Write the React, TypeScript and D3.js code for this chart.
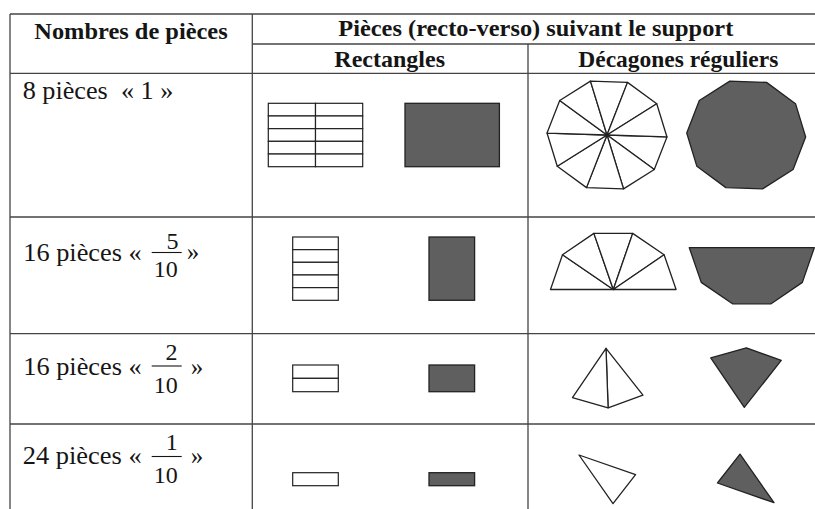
import React from "react";
import * as d3 from "d3";

// ---------- content ----------
const headerMain = "Nombres de pièces";
const headerSupport = "Pièces (recto-verso) suivant le support";
const supportTypes = ["Rectangles", "Décagones réguliers"];

const pieceCounts = [8, 16, 16, 24];
const fractionNumerators = [1, 5, 2, 1];
const fractionDenominators = [1, 10, 10, 10];
// tenths of the unit rectangle (grid rows x cols)
const rectGridRows = [5, 5, 2, 1];
const rectGridCols = [2, 1, 1, 1];
// tenths (sectors) of the regular decagon
const decagonSectors = [10, 5, 2, 1];

// ---------- layout ----------
const W = 815;
const H = 509;
const tableLeft = 10;
const tableTop = 14;
const col1X = 252.3;
const col2X = 528;
const headerSplitY = 44;
const headerBottomY = 73.3;
const rowBottoms = [217, 333.7, 424];

const headerLayout = [
  { x: 34.3, base: 39, w: 193.4 },
  { x: 338.3, base: 36, w: 395 },
  { x: 334.3, base: 67, w: 110.7 },
  { x: 578.3, base: 66.7, w: 200 },
];

const labelLayout = [
  { x: 22.7, base: 98.5, w: 150.6 },
  { x: 23.3, base: 261, w: 118.4, barY: 252.5, numX: 172.5, numBase: 248.5, denX: 165.8, denBase: 277, sufX: 186.7, sufBase: 260 },
  { x: 23.3, base: 375, w: 118.4, barY: 366, numX: 171.5, numBase: 360, denX: 165.8, denBase: 392.5, sufX: 190.7, sufBase: 375 },
  { x: 22.7, base: 464, w: 119, barY: 456.5, numX: 171.7, numBase: 450, denX: 165.8, denBase: 482.5, sufX: 190.7, sufBase: 464 },
];
const barX0 = 151.7;
const barX1 = 181.7;

const rectLayout = [
  { x: 268.3, fx: 405, y: 103.3, cw: 47.2, ch: 12.68 },
  { x: 292.7, fx: 429, y: 237, cw: 45.6, ch: 12.66 },
  { x: 292.7, fx: 429, y: 365, cw: 45.6, ch: 13.35 },
  { x: 292.7, fx: 429, y: 472.7, cw: 45.6, ch: 13 },
];

const decaLayout = [
  { o: { cx: 607, cy: 135, rx: 60, ry: 56, start: 2 }, f: { cx: 746.2, cy: 135, rx: 59.5, ry: 56, start: 2 } },
  { o: { cx: 613.3, cy: 289.5, rx: 62.8, ry: 59, start: 180 }, f: { cx: 751.8, cy: 247.7, rx: 62.5, ry: 59, start: 0 } },
  { o: { cx: 606, cy: 348.3, rx: 60, ry: 59.5, start: 52 }, f: { cx: 744.3, cy: 407.3, rx: 60, ry: 59.5, start: 236 } },
  { o: { cx: 579, cy: 455, rx: 60, ry: 59, start: 19.5 }, f: { cx: 774, cy: 502.7, rx: 60, ry: 59, start: 199.5 } },
];

const LINE = "#444";
const INK = "#151515";
const SHAPE_STROKE = "#222";
const FILL = "#5f5f5f";
const SERIF = "Liberation Serif, Times New Roman, Times, serif";

const angleScale = d3.scaleLinear().domain([0, 10]).range([0, 2 * Math.PI]);

type Deca = { cx: number; cy: number; rx: number; ry: number; start: number };

function vertex(d: Deca, k: number): [number, number] {
  const a = (d.start * Math.PI) / 180 + angleScale(k);
  return [d.cx + d.rx * Math.cos(a), d.cy + d.ry * Math.sin(a)];
}

const lineGen = d3.line();

function OutlinePiece({ d, n }: { d: Deca; n: number }) {
  return (
    <g>
      {d3.range(n).map((k) => (
        <path
          key={k}
          d={lineGen([[d.cx, d.cy], vertex(d, k), vertex(d, k + 1)])! + "Z"}
          fill="#fff"
          stroke={SHAPE_STROKE}
          strokeWidth={1.3}
          strokeLinejoin="round"
        />
      ))}
    </g>
  );
}

function FilledPiece({ d, n }: { d: Deca; n: number }) {
  const pts: [number, number][] = d3.range(n + (n < 10 ? 1 : 0)).map((k) => vertex(d, k));
  if (n < 10) pts.push([d.cx, d.cy]);
  return (
    <path d={lineGen(pts)! + "Z"} fill={FILL} stroke={SHAPE_STROKE} strokeWidth={1.3} strokeLinejoin="round" />
  );
}

function RectPieces({ i }: { i: number }) {
  const L = rectLayout[i];
  const rows = rectGridRows[i];
  const cols = rectGridCols[i];
  const xs = d3.scaleLinear().domain([0, cols]).range([L.x, L.x + cols * L.cw]);
  const fxs = d3.scaleLinear().domain([0, cols]).range([L.fx, L.fx + cols * L.cw]);
  const ys = d3.scaleLinear().domain([0, rows]).range([L.y, L.y + rows * L.ch]);
  const cells: { r: number; c: number }[] = [];
  d3.range(rows).forEach((r) => d3.range(cols).forEach((c) => cells.push({ r, c })));
  return (
    <g>
      {cells.map(({ r, c }) => (
        <rect
          key={`${r}-${c}`}
          x={xs(c)}
          y={ys(r)}
          width={xs(c + 1) - xs(c)}
          height={ys(r + 1) - ys(r)}
          fill="#fff"
          stroke={SHAPE_STROKE}
          strokeWidth={1.2}
        />
      ))}
      <rect
        x={fxs(0)}
        y={ys(0)}
        width={fxs(cols) - fxs(0)}
        height={ys(rows) - ys(0)}
        fill={FILL}
        stroke={SHAPE_STROKE}
        strokeWidth={1.3}
      />
    </g>
  );
}

function RowLabel({ i }: { i: number }) {
  const L: any = labelLayout[i];
  const common = { fontFamily: SERIF, fill: INK };
  if (fractionDenominators[i] === 1) {
    return (
      <text {...common} fontSize={25} x={L.x} y={L.base} textLength={L.w} lengthAdjust="spacingAndGlyphs" xmlSpace="preserve">
        {`${pieceCounts[i]} pièces  « ${fractionNumerators[i]} »`}
      </text>
    );
  }
  return (
    <g>
      <text {...common} fontSize={25} x={L.x} y={L.base} textLength={L.w} lengthAdjust="spacingAndGlyphs">
        {`${pieceCounts[i]} pièces «`}
      </text>
      <text {...common} fontSize={24} x={L.numX} y={L.numBase} textAnchor="middle">
        {String(fractionNumerators[i])}
      </text>
      <line x1={barX0} x2={barX1} y1={L.barY} y2={L.barY} stroke={INK} strokeWidth={1.1} />
      <text {...common} fontSize={24} x={L.denX} y={L.denBase} textAnchor="middle">
        {String(fractionDenominators[i])}
      </text>
      <text {...common} fontSize={25} x={L.sufX} y={L.sufBase}>
        »
      </text>
    </g>
  );
}

export default function App() {
  const headerTexts = [headerMain, headerSupport, supportTypes[0], supportTypes[1]];
  return (
    <svg
      width={W}
      height={H}
      viewBox={`0 0 ${W} ${H}`}
      style={{ position: "absolute", left: 0, top: 0, background: "#fff" }}
    >
      <rect x={0} y={0} width={W} height={H} fill="#fff" />
      {/* table grid */}
      <g stroke={LINE} strokeWidth={1.3} fill="none">
        <line x1={tableLeft} x2={W} y1={tableTop} y2={tableTop} />
        <line x1={tableLeft} x2={tableLeft} y1={tableTop} y2={H} />
        <line x1={col1X} x2={col1X} y1={tableTop} y2={H} />
        <line x1={col2X} x2={col2X} y1={headerSplitY} y2={H} />
        <line x1={col1X} x2={W} y1={headerSplitY} y2={headerSplitY} />
        <line x1={tableLeft} x2={W} y1={headerBottomY} y2={headerBottomY} />
        {rowBottoms.map((y, k) => (
          <line key={k} x1={tableLeft} x2={W} y1={y} y2={y} />
        ))}
      </g>
      {/* headers */}
      {headerTexts.map((t, k) => (
        <text
          key={k}
          x={headerLayout[k].x}
          y={headerLayout[k].base}
          textLength={headerLayout[k].w}
          lengthAdjust="spacingAndGlyphs"
          fontFamily={SERIF}
          fontSize={24}
          fontWeight={700}
          fill={INK}
        >
          {t}
        </text>
      ))}
      {/* rows */}
      {pieceCounts.map((_, i) => (
        <g key={i}>
          <RowLabel i={i} />
          <RectPieces i={i} />
          <OutlinePiece d={decaLayout[i].o} n={decagonSectors[i]} />
          <FilledPiece d={decaLayout[i].f} n={decagonSectors[i]} />
        </g>
      ))}
    </svg>
  );
}
